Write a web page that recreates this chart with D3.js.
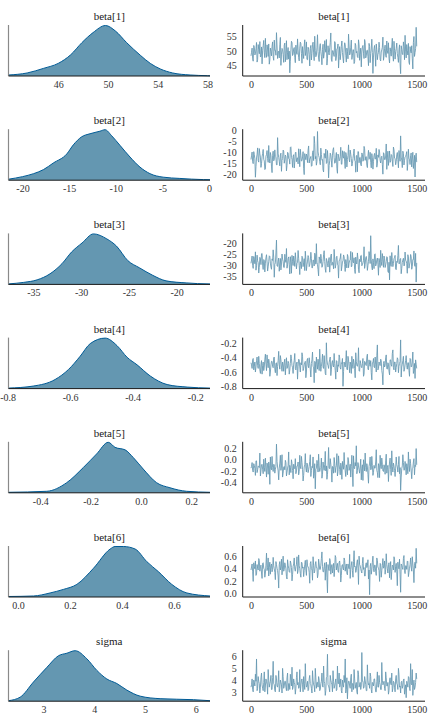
<!DOCTYPE html>
<html><head><meta charset="utf-8">
<script src="https://cdn.jsdelivr.net/npm/d3@7"></script>
<style>
body{margin:0;background:#fff}
svg{display:block}
svg text{font-family:"Liberation Serif","Times New Roman",Times,"Tinos","Nimbus Roman","Noto Serif","DejaVu Serif",serif !important}
</style>
</head><body>
<svg id="chart" width="432" height="720"></svg>
<script>
// ---------- parameter names ----------
const paramNames = ["beta[1]","beta[2]","beta[3]","beta[4]","beta[5]","beta[6]","sigma"];

// ---------- posterior densities (x value, relative density) ----------
const densX_beta1 = [42.0,43.5,44.8,46.0,47.0,47.9,48.8,49.8,50.6,51.5,52.6,53.4,54.2,55.2,56.6,58.0,58.2];
const densY_beta1 = [0.02,0.06,0.15,0.25,0.42,0.66,0.86,1.0,0.89,0.66,0.41,0.25,0.14,0.06,0.02,0.006,0.004];

const densX_beta2 = [-21.5,-20.0,-18.8,-17.75,-16.7,-15.25,-14.55,-13.65,-12.76,-11.7,-11.15,-10.44,-9.55,-8.48,-7.41,-6.34,-4.92,-3.13,-0.6,0.1];
const densY_beta2 = [0.02,0.07,0.13,0.21,0.34,0.52,0.70,0.86,0.92,0.97,1.0,0.88,0.69,0.46,0.26,0.13,0.06,0.035,0.012,0.01];

const densX_beta3 = [-37.6,-36.0,-34.6,-33.25,-32.0,-31.0,-29.9,-28.7,-27.3,-26.3,-25.1,-23.9,-22.5,-21.1,-19.0,-16.6,-16.5];
const densY_beta3 = [0.01,0.04,0.09,0.21,0.41,0.64,0.82,1.0,0.9,0.76,0.47,0.33,0.18,0.07,0.03,0.01,0.01];

const densX_beta4 = [-0.797,-0.718,-0.648,-0.605,-0.568,-0.536,-0.488,-0.45,-0.418,-0.386,-0.344,-0.29,-0.226,-0.153];
const densY_beta4 = [0.01,0.05,0.18,0.38,0.64,0.89,1.0,0.85,0.62,0.47,0.25,0.08,0.03,0.01];

const densX_beta5 = [-0.526,-0.374,-0.295,-0.229,-0.176,-0.13,-0.103,-0.063,-0.031,0.009,0.062,0.115,0.181,0.274];
const densY_beta5 = [0.01,0.03,0.2,0.5,0.77,1.0,0.9,0.85,0.7,0.47,0.2,0.1,0.03,0.01];

const densX_beta6 = [-0.037,0.059,0.123,0.174,0.226,0.29,0.354,0.373,0.405,0.45,0.495,0.54,0.591,0.649,0.738];
const densY_beta6 = [0.01,0.02,0.08,0.15,0.25,0.57,0.95,1.0,1.0,0.95,0.7,0.5,0.25,0.08,0.02];

const densX_sigma = [2.311,2.541,2.803,3.067,3.295,3.461,3.624,3.854,4.051,4.248,4.445,4.642,4.904,5.297,5.953,6.28];
const densY_sigma = [0.01,0.08,0.38,0.67,0.9,0.95,1.0,0.84,0.61,0.44,0.35,0.22,0.1,0.05,0.03,0.01];

// ---------- trace draws: two interleaved halves of one chain (iterations 1..1500) ----------
const traceA_beta1 = [
48.3,50.9,46.5,51.2,49.0,52.8,47.1,50.4,53.1,48.2,
45.6,51.7,49.3,54.2,47.8,50.6,52.3,46.9,49.8,51.5,
48.0,53.6,50.2,56.1,47.4,49.9,52.0,45.1,50.8,48.7,
51.9,46.3,53.4,49.5,47.2,42.6,50.3,52.7,48.8,51.1,
46.0,49.6,54.0,47.7,50.9,52.4,45.8,49.2,51.6,48.4,
53.0,47.0,50.5,44.9,51.8,49.1,52.9,46.7,50.0,48.5,
55.4,47.6,51.3,49.7,45.3,52.2,48.9,50.7,53.8,47.3,
49.4,51.0,56.0,46.4,50.1,48.1,52.6,47.9,50.8,44.2,
51.4,49.0,53.3,47.5,50.6,52.1,46.2,49.8,55.6,48.6,
51.2,47.1,50.4,45.7,52.5,49.3,48.0,53.7,46.8,50.9,
49.6,51.8,47.4,52.8,48.3,50.2,45.0,51.5,49.1,53.9,
42.4,50.7,48.9,52.3,47.0,49.5,51.1,46.6,50.3,54.6,
48.2,51.9,47.8,50.0,52.7,45.9,49.7,51.6,48.5,53.2,
47.2,50.8,49.0,46.1,52.0,42.3,50.5,48.7,51.4,55.2,
47.6,50.1,52.5,45.4,49.9,51.7,43.9,54.8,49.4,57.9];
const traceB_beta1 = [
49.5,47.3,51.8,48.6,50.7,46.2,52.1,49.0,47.9,51.3,
50.2,53.5,47.7,49.4,52.0,48.1,45.5,50.9,48.3,53.0,
46.8,50.1,48.5,51.6,49.7,47.6,54.5,48.9,50.4,46.1,
52.6,49.2,47.0,51.1,49.9,46.5,53.2,48.4,50.6,47.8,
51.9,48.8,50.3,46.6,52.9,49.1,51.4,47.4,53.7,49.6,
47.1,51.2,48.7,50.8,46.9,52.2,49.3,54.9,48.0,51.0,
49.8,46.4,52.4,48.2,50.5,47.5,53.4,49.5,45.2,51.7,
48.6,52.8,47.2,50.0,48.9,53.1,46.7,50.7,52.3,48.1,
47.0,51.5,49.4,45.9,52.7,48.5,50.9,47.3,51.6,49.0,
53.6,48.3,50.3,46.3,51.9,49.8,47.7,52.0,48.8,44.6,
51.3,49.2,53.8,47.6,50.1,48.0,52.5,46.0,50.6,49.4,
47.9,51.8,44.8,50.4,48.7,52.9,47.1,49.6,51.2,46.8,
50.8,48.4,53.3,49.1,47.4,51.0,48.2,54.2,46.5,50.2,
49.7,52.6,47.8,50.5,45.6,51.7,48.9,53.0,47.0,49.9,
52.1,48.6,46.2,51.4,49.3,47.5,52.8,48.1,50.7,51.5];

const traceA_beta2 = [
-13.2,-9.8,-15.1,-11.0,-21.3,-12.5,-7.9,-14.4,-10.6,-16.8,
-12.0,-8.6,-13.9,-17.5,-10.9,-12.7,-6.8,-14.8,-11.5,-19.2,
-9.4,-13.3,-11.9,-15.6,-3.2,-12.2,-16.1,-10.3,-13.6,-8.9,
-14.9,-11.2,-18.4,-9.9,-12.8,-15.3,-7.4,-13.0,-11.7,-17.1,
-10.1,-14.2,-12.4,-8.3,-16.5,-11.3,-13.7,-9.6,-20.1,-12.1,
-10.7,-14.6,-7.0,-13.1,-11.8,-16.0,-9.2,-2.6,-12.9,-15.8,
-0.4,-11.4,-14.1,-8.0,-13.5,-17.9,-10.4,-12.6,-15.0,-9.1,
-21.6,-13.8,-11.1,-16.7,-8.7,-12.3,-14.7,-10.0,-19.5,-11.6,
-13.4,-7.6,-15.4,-12.0,-9.5,-17.3,-11.0,-13.2,-6.5,-14.3,
-10.8,-16.2,-12.7,-8.4,-13.9,-11.5,-18.8,-9.7,-12.4,-15.5,
-10.2,-14.0,-7.2,-13.6,-11.9,-16.9,-9.0,-12.8,-14.5,-10.5,
-17.6,-11.3,-13.0,-8.1,-15.2,-12.2,-9.8,-14.8,-11.7,-19.9,
-10.6,-13.3,-6.1,-12.5,-15.9,-9.3,-13.8,-11.2,-16.4,-8.8,
-12.9,-14.2,-10.0,-17.0,-11.6,-2.4,-13.5,-9.4,-15.7,-12.1,
-10.9,-18.2,-8.5,-13.1,-11.4,-16.6,-9.9,-14.6,-21.2,-10.3];
const traceB_beta2 = [
-11.5,-14.2,-9.6,-12.9,-16.4,-10.8,-13.6,-8.2,-12.1,-15.0,
-10.4,-13.1,-17.8,-11.7,-9.1,-14.5,-12.6,-10.0,-16.2,-11.3,
-13.8,-8.8,-12.4,-15.7,-10.6,-14.0,-11.1,-18.6,-12.7,-9.3,
-13.4,-11.9,-15.9,-10.2,-13.0,-7.7,-12.3,-16.8,-11.0,-14.4,
-9.8,-12.8,-15.2,-11.4,-8.5,-13.9,-12.0,-17.2,-10.5,-13.3,
-11.6,-9.0,-14.8,-12.5,-16.3,-10.1,-13.7,-5.9,-11.8,-14.1,
-9.7,-12.2,-15.6,-10.9,-13.2,-18.9,-11.5,-8.4,-14.6,-12.9,
-16.0,-10.3,-13.5,-11.2,-7.8,-14.9,-12.1,-17.4,-10.7,-13.8,
-11.9,-15.3,-9.2,-12.6,-14.3,-10.0,-16.6,-11.4,-13.0,-8.9,
-12.7,-15.1,-10.6,-13.6,-19.0,-11.3,-9.5,-14.7,-12.2,-16.1,
-10.8,-13.4,-8.3,-12.0,-15.8,-11.7,-13.1,-9.9,-17.0,-12.4,
-14.2,-10.4,-12.9,-16.7,-11.1,-8.6,-13.7,-12.3,-15.4,-10.1,
-13.2,-11.6,-17.7,-9.4,-12.8,-14.5,-10.9,-13.9,-7.5,-12.5,
-15.6,-11.0,-13.3,-9.1,-14.0,-12.1,-16.9,-10.5,-13.6,-11.8,
-9.6,-14.8,-12.6,-15.5,-10.2,-13.0,-17.3,-11.3,-12.0,-14.4];

const traceA_beta3 = [
-29.1,-25.8,-31.4,-27.3,-23.9,-30.2,-28.0,-33.5,-26.4,-29.7,
-24.6,-31.9,-27.8,-29.0,-25.2,-32.6,-28.4,-26.0,-30.8,-27.1,
-23.0,-35.4,-28.9,-18.6,-30.5,-26.7,-29.4,-32.1,-24.9,-28.2,
-31.0,-27.5,-22.4,-29.8,-26.2,-33.9,-28.6,-25.5,-30.1,-27.9,
-24.3,-31.6,-28.7,-26.8,-34.2,-29.3,-25.9,-30.6,-27.0,-23.6,
-32.4,-28.1,-26.5,-29.9,-24.1,-31.2,-27.6,-30.3,-25.3,-20.2,
-29.6,-34.8,-27.2,-25.0,-30.9,-28.3,-23.4,-31.7,-26.9,-29.2,
-27.7,-33.1,-25.6,-30.0,-28.8,-22.8,-31.3,-26.3,-29.5,-35.8,
-27.4,-24.7,-30.7,-28.0,-26.1,-32.8,-29.1,-25.1,-31.1,-27.8,
-23.7,-30.4,-28.5,-26.6,-33.7,-29.0,-24.4,-31.8,-27.3,-25.7,
-30.2,-28.9,-21.6,-29.7,-26.0,-32.3,-28.2,-25.4,-16.6,-30.8,
-27.1,-31.5,-24.8,-29.4,-26.7,-34.5,-28.6,-23.2,-30.1,-27.5,
-25.8,-31.0,-28.3,-26.4,-33.3,-36.6,-29.8,-24.2,-30.6,-27.0,
-25.5,-32.0,-28.7,-21.0,-29.2,-26.9,-31.4,-27.6,-30.3,-24.0,
-28.1,-33.6,-26.2,-29.9,-25.1,-31.8,-27.4,-23.5,-30.5,-37.6];
const traceB_beta3 = [
-27.6,-30.1,-26.0,-29.3,-32.2,-25.4,-28.8,-31.0,-27.1,-24.8,
-29.9,-27.4,-33.0,-26.6,-28.5,-30.7,-25.7,-29.0,-31.8,-27.8,
-26.3,-29.6,-24.4,-30.3,-28.1,-32.7,-26.9,-29.4,-27.2,-30.9,
-25.0,-28.7,-31.3,-27.0,-29.7,-26.1,-33.6,-28.3,-25.8,-30.5,
-27.5,-29.2,-23.3,-30.0,-28.4,-31.5,-26.4,-28.9,-32.4,-27.3,
-29.8,-25.6,-30.6,-28.0,-26.8,-31.1,-27.7,-24.5,-29.5,-28.6,
-32.0,-26.2,-29.1,-27.0,-30.4,-25.2,-28.2,-33.2,-27.9,-30.8,
-26.5,-29.3,-24.9,-28.7,-31.6,-27.2,-29.9,-25.9,-30.2,-28.1,
-26.7,-32.5,-28.5,-25.3,-29.6,-27.4,-31.2,-26.0,-29.0,-27.6,
-30.7,-24.2,-28.9,-31.9,-26.3,-29.4,-27.1,-33.4,-28.4,-25.5,
-29.7,-27.8,-31.4,-26.6,-28.0,-30.1,-23.8,-29.2,-27.3,-32.1,
-28.8,-25.1,-30.3,-27.5,-29.5,-26.9,-31.0,-28.3,-24.7,-30.9,
-27.0,-29.8,-26.1,-32.8,-28.6,-25.7,-30.5,-27.9,-29.1,-26.4,
-31.7,-28.2,-25.6,-29.4,-27.2,-33.8,-28.7,-26.8,-30.0,-27.7,
-29.3,-25.2,-31.3,-28.5,-26.2,-30.6,-27.4,-29.9,-24.6,-28.9];

const traceA_beta4 = [
-0.47,-0.55,-0.41,-0.52,-0.60,-0.44,-0.51,-0.38,-0.57,-0.49,
-0.63,-0.46,-0.53,-0.35,-0.58,-0.48,-0.42,-0.66,-0.50,-0.45,
-0.54,-0.39,-0.61,-0.47,-0.52,-0.31,-0.56,-0.43,-0.59,-0.50,
-0.46,-0.64,-0.40,-0.53,-0.48,-0.57,-0.36,-0.51,-0.62,-0.44,
-0.55,-0.49,-0.70,-0.42,-0.53,-0.47,-0.33,-0.58,-0.50,-0.45,
-0.60,-0.41,-0.54,-0.48,-0.67,-0.43,-0.52,-0.75,-0.46,-0.39,
-0.56,-0.50,-0.28,-0.59,-0.45,-0.53,-0.37,-0.62,-0.19,-0.49,
-0.55,-0.42,-0.65,-0.47,-0.51,-0.34,-0.58,-0.44,-0.60,-0.52,
-0.40,-0.56,-0.48,-0.80,-0.46,-0.53,-0.30,-0.57,-0.43,-0.61,
-0.50,-0.38,-0.55,-0.47,-0.68,-0.45,-0.52,-0.26,-0.59,-0.48,
-0.54,-0.41,-0.63,-0.46,-0.51,-0.35,-0.57,-0.49,-0.44,-0.71,
-0.47,-0.53,-0.39,-0.60,-0.22,-0.55,-0.48,-0.42,-0.58,-0.78,
-0.45,-0.51,-0.36,-0.56,-0.49,-0.64,-0.43,-0.52,-0.29,-0.57,
-0.46,-0.54,-0.40,-0.61,-0.48,-0.15,-0.53,-0.44,-0.59,-0.50,
-0.37,-0.56,-0.47,-0.66,-0.42,-0.52,-0.32,-0.58,-0.69,-0.49];
const traceB_beta4 = [
-0.50,-0.43,-0.57,-0.46,-0.53,-0.39,-0.55,-0.48,-0.62,-0.44,
-0.51,-0.58,-0.42,-0.49,-0.36,-0.54,-0.47,-0.60,-0.45,-0.52,
-0.40,-0.56,-0.48,-0.65,-0.44,-0.50,-0.37,-0.53,-0.46,-0.59,
-0.42,-0.51,-0.55,-0.45,-0.63,-0.48,-0.41,-0.54,-0.49,-0.34,
-0.57,-0.46,-0.52,-0.43,-0.60,-0.50,-0.38,-0.55,-0.47,-0.68,
-0.44,-0.51,-0.40,-0.56,-0.48,-0.32,-0.53,-0.45,-0.61,-0.49,
-0.42,-0.58,-0.46,-0.52,-0.35,-0.55,-0.49,-0.64,-0.43,-0.51,
-0.47,-0.39,-0.57,-0.44,-0.53,-0.48,-0.70,-0.45,-0.50,-0.36,
-0.54,-0.47,-0.41,-0.59,-0.50,-0.44,-0.56,-0.38,-0.52,-0.46,
-0.62,-0.49,-0.42,-0.55,-0.33,-0.51,-0.47,-0.58,-0.44,-0.53,
-0.48,-0.66,-0.45,-0.50,-0.39,-0.56,-0.43,-0.52,-0.61,-0.47,
-0.41,-0.54,-0.49,-0.37,-0.57,-0.46,-0.51,-0.44,-0.63,-0.48,
-0.53,-0.40,-0.55,-0.47,-0.59,-0.43,-0.50,-0.34,-0.54,-0.46,
-0.60,-0.48,-0.42,-0.52,-0.45,-0.67,-0.49,-0.38,-0.56,-0.44,
-0.51,-0.47,-0.58,-0.41,-0.53,-0.46,-0.62,-0.48,-0.43,-0.55];

const traceA_beta5 = [
-0.15,-0.05,-0.22,-0.10,-0.28,-0.02,-0.18,-0.12,0.12,-0.20,
-0.08,-0.25,-0.14,0.03,-0.31,-0.11,-0.04,-0.44,-0.16,0.06,
-0.21,-0.09,-0.17,0.28,-0.13,-0.36,-0.06,-0.19,0.09,-0.24,
-0.12,-0.01,-0.29,-0.15,0.14,-0.10,-0.23,-0.07,-0.34,-0.14,
0.02,-0.20,-0.11,-0.27,0.08,-0.16,-0.05,-0.38,-0.13,0.11,
-0.22,-0.09,-0.18,-0.03,-0.30,-0.12,0.05,-0.25,-0.52,-0.15,
-0.07,0.10,-0.21,-0.14,-0.33,-0.04,-0.19,0.15,-0.11,-0.26,
0.22,-0.16,-0.08,-0.40,-0.13,0.04,-0.23,-0.10,-0.29,0.07,
-0.17,-0.06,-0.35,-0.12,0.13,-0.20,-0.09,-0.27,-0.02,-0.15,
-0.31,0.08,-0.48,-0.14,-0.05,0.25,-0.19,-0.11,-0.24,0.01,
-0.16,-0.37,-0.08,0.12,-0.21,-0.13,-0.42,-0.06,-0.18,0.06,
-0.28,-0.10,-0.15,0.18,-0.23,-0.07,-0.32,-0.12,0.03,-0.20,
-0.09,-0.26,0.10,-0.14,-0.39,-0.04,-0.17,0.16,-0.22,-0.11,
-0.30,0.05,-0.13,-0.08,-0.25,-0.55,-0.16,0.09,-0.19,-0.03,
-0.27,-0.12,0.14,-0.21,-0.07,-0.34,-0.15,0.02,-0.10,0.20];
const traceB_beta5 = [
-0.12,-0.19,-0.07,-0.16,-0.02,-0.23,-0.11,-0.14,-0.29,-0.09,
-0.17,0.01,-0.21,-0.13,-0.06,-0.26,-0.10,0.05,-0.18,-0.14,
-0.08,-0.24,-0.12,-0.03,-0.20,-0.15,0.08,-0.11,-0.31,-0.13,
-0.18,-0.05,-0.22,-0.10,-0.27,-0.14,0.00,-0.19,-0.08,-0.16,
-0.25,-0.11,-0.04,-0.21,-0.13,0.06,-0.17,-0.28,-0.09,-0.15,
-0.06,-0.23,-0.12,0.09,-0.19,-0.14,-0.33,-0.07,-0.17,-0.01,
-0.22,-0.11,-0.16,0.03,-0.26,-0.13,-0.08,-0.20,-0.35,-0.10,
-0.15,0.02,-0.18,-0.12,-0.24,-0.06,-0.14,0.11,-0.21,-0.09,
-0.27,-0.13,-0.03,-0.17,-0.10,-0.30,-0.15,0.04,-0.19,-0.08,
-0.12,-0.22,0.07,-0.16,-0.11,-0.25,-0.05,-0.18,-0.13,-0.36,
-0.09,0.00,-0.20,-0.14,-0.07,-0.26,-0.12,0.05,-0.17,-0.10,
-0.23,-0.15,-0.04,-0.19,-0.32,-0.11,0.08,-0.16,-0.08,-0.21,
-0.13,-0.02,-0.24,-0.10,-0.17,0.03,-0.28,-0.12,-0.06,-0.19,
-0.15,-0.09,-0.22,0.06,-0.14,-0.31,-0.11,-0.05,-0.18,-0.13,
-0.07,-0.25,-0.10,0.01,-0.20,-0.16,-0.04,-0.27,-0.12,-0.09];

const traceA_beta6 = [
0.38,0.48,0.19,0.44,0.53,0.31,0.41,0.57,0.36,0.46,
0.24,0.50,0.39,0.33,0.66,0.42,0.28,0.51,0.45,0.35,
0.59,0.40,0.22,0.47,0.37,0.08,0.52,0.43,0.30,0.61,
0.39,0.46,0.27,0.55,0.41,0.34,0.49,0.20,0.44,0.58,
0.36,0.47,0.32,0.63,0.40,0.26,0.50,0.43,0.37,0.54,
0.29,0.45,0.41,0.16,0.52,0.38,0.60,0.33,0.48,0.42,
0.25,0.56,0.39,0.46,0.68,0.35,0.44,0.21,0.51,0.00,
0.40,0.57,0.31,0.47,0.43,0.27,0.62,0.38,0.49,0.34,
0.53,0.18,0.45,0.41,0.58,0.36,0.48,0.30,0.43,0.64,
0.39,0.52,0.26,0.70,0.44,0.37,0.55,0.14,0.47,0.40,
0.33,0.59,0.42,0.28,0.50,0.45,0.23,-0.03,0.49,0.38,
0.61,0.35,0.46,0.29,0.54,0.41,0.19,0.48,0.37,0.57,
0.43,0.31,0.65,0.40,0.47,0.25,0.52,0.36,0.44,0.60,
0.34,0.49,0.12,0.42,0.56,0.01,0.46,0.39,0.62,0.32,
0.45,0.53,0.27,0.41,0.58,0.36,0.48,0.17,0.51,0.74];
const traceB_beta6 = [
0.43,0.35,0.50,0.40,0.29,0.47,0.38,0.54,0.44,0.33,
0.49,0.41,0.26,0.46,0.37,0.58,0.42,0.31,0.48,0.39,
0.45,0.34,0.52,0.41,0.28,0.47,0.38,0.56,0.43,0.36,
0.50,0.40,0.23,0.46,0.35,0.53,0.42,0.30,0.48,0.39,
0.44,0.60,0.37,0.45,0.32,0.51,0.41,0.27,0.47,0.38,
0.55,0.43,0.34,0.49,0.40,0.21,0.46,0.36,0.52,0.42,
0.31,0.48,0.39,0.57,0.44,0.35,0.50,0.41,0.25,0.47,
0.37,0.53,0.43,0.33,0.49,0.40,0.59,0.45,0.36,0.51,
0.42,0.29,0.47,0.38,0.54,0.44,0.32,0.48,0.40,0.24,
0.46,0.37,0.52,0.43,0.34,0.50,0.41,0.61,0.45,0.36,
0.49,0.39,0.28,0.47,0.42,0.55,0.38,0.44,0.31,0.51,
0.40,0.46,0.35,0.58,0.43,0.37,0.49,0.26,0.45,0.41,
0.53,0.39,0.47,0.33,0.50,0.42,0.22,0.46,0.38,0.56,
0.44,0.36,0.51,0.40,0.30,0.48,0.42,0.57,0.37,0.45,
0.39,0.52,0.34,0.47,0.43,0.60,0.38,0.46,0.41,0.49];

const traceA_sigma = [
3.4,4.1,3.0,3.8,4.5,5.8,3.3,3.9,2.9,4.2,
3.6,3.1,4.7,3.5,3.9,2.8,4.0,3.7,4.4,3.2,
5.6,3.6,3.0,4.1,3.4,4.8,3.3,3.8,2.9,4.3,
3.5,3.9,3.1,4.6,3.7,3.2,4.0,5.1,3.4,3.8,
2.8,4.2,3.6,3.3,4.9,3.5,4.1,3.0,3.7,5.4,
3.4,3.9,3.2,4.4,3.6,2.9,4.0,3.5,5.0,3.3,
3.8,4.3,3.1,3.7,4.6,3.4,3.9,2.7,4.2,6.2,
3.5,3.0,4.0,3.6,4.8,3.3,3.8,3.1,5.2,3.7,
3.4,4.1,2.9,3.6,4.4,5.8,3.2,2.4,3.9,3.5,
4.2,3.0,3.7,4.9,3.3,3.8,2.8,4.5,3.6,3.2,
6.35,3.9,3.4,4.0,3.1,5.3,3.6,3.3,4.3,2.9,
3.7,4.1,3.5,3.0,4.7,3.4,3.8,3.2,5.5,3.6,
3.9,3.1,4.2,3.5,2.8,4.0,3.7,4.6,3.3,3.8,
3.0,4.4,3.6,5.0,3.4,2.9,3.9,3.5,4.1,3.2,
2.5,3.7,4.3,3.3,5.4,3.6,2.7,4.0,3.4,4.6];
const traceB_sigma = [
3.6,3.2,4.0,3.5,3.9,3.1,4.3,3.7,3.4,4.6,
3.3,3.8,3.0,4.1,3.6,4.9,3.4,3.9,3.2,4.2,
3.7,3.1,4.4,3.5,3.8,3.0,4.0,3.6,5.0,3.3,
3.9,3.4,4.2,3.1,3.7,4.5,3.5,3.2,4.1,3.6,
3.3,4.7,3.8,3.4,3.0,4.0,3.6,4.3,3.2,3.9,
3.5,3.1,4.1,3.7,3.3,4.8,3.6,3.0,4.2,3.8,
3.4,4.0,3.2,3.9,3.5,5.2,3.7,3.1,4.3,3.6,
3.3,4.4,3.8,3.0,3.9,3.5,4.1,3.2,3.7,4.6,
3.6,3.1,4.0,3.4,3.8,2.9,4.2,3.5,3.9,3.3,
4.5,3.7,3.2,4.1,3.6,3.0,4.8,3.4,3.8,3.5,
3.9,3.3,4.3,3.6,3.1,4.0,3.7,4.6,3.2,3.8,
3.5,4.1,3.0,3.9,3.4,4.4,3.6,3.2,4.0,3.7,
3.3,4.7,3.5,3.8,3.1,4.2,3.6,3.0,3.9,3.4,
4.1,3.7,3.2,4.5,3.5,3.8,3.3,4.0,2.8,3.6,
3.9,3.4,4.2,3.1,3.7,4.9,3.5,3.2,3.8,4.1];

// ---------- tick labels ----------
const densTicks_beta1 = ["46","50","54","58"];
const densTicks_beta2 = ["-20","-15","-10","-5","0"];
const densTicks_beta3 = ["-35","-30","-25","-20"];
const densTicks_beta4 = ["-0.8","-0.6","-0.4","-0.2"];
const densTicks_beta5 = ["-0.4","-0.2","0.0","0.2"];
const densTicks_beta6 = ["0.0","0.2","0.4","0.6"];
const densTicks_sigma = ["3","4","5","6"];

const traceYTicks_beta1 = ["45","50","55"];
const traceYTicks_beta2 = ["-20","-15","-10","-5","0"];
const traceYTicks_beta3 = ["-35","-30","-25","-20"];
const traceYTicks_beta4 = ["-0.8","-0.6","-0.4","-0.2"];
const traceYTicks_beta5 = ["-0.4","-0.2","0.0","0.2"];
const traceYTicks_beta6 = ["0.0","0.2","0.4","0.6"];
const traceYTicks_sigma = ["3","4","5","6"];

const iterTicks = ["0","500","1000","1500"];
const nIter = 1500;

// ---------- assemble ----------
const interleave = (a, b) => a.flatMap((v, k) => [v, b[k]]);
const panels = [
  {name: paramNames[0], dx: densX_beta1, dy: densY_beta1, tr: interleave(traceA_beta1, traceB_beta1), dt: densTicks_beta1, ty: traceYTicks_beta1},
  {name: paramNames[1], dx: densX_beta2, dy: densY_beta2, tr: interleave(traceA_beta2, traceB_beta2), dt: densTicks_beta2, ty: traceYTicks_beta2},
  {name: paramNames[2], dx: densX_beta3, dy: densY_beta3, tr: interleave(traceA_beta3, traceB_beta3), dt: densTicks_beta3, ty: traceYTicks_beta3},
  {name: paramNames[3], dx: densX_beta4, dy: densY_beta4, tr: interleave(traceA_beta4, traceB_beta4), dt: densTicks_beta4, ty: traceYTicks_beta4},
  {name: paramNames[4], dx: densX_beta5, dy: densY_beta5, tr: interleave(traceA_beta5, traceB_beta5), dt: densTicks_beta5, ty: traceYTicks_beta5},
  {name: paramNames[5], dx: densX_beta6, dy: densY_beta6, tr: interleave(traceA_beta6, traceB_beta6), dt: densTicks_beta6, ty: traceYTicks_beta6},
  {name: paramNames[6], dx: densX_sigma, dy: densY_sigma, tr: interleave(traceA_sigma, traceB_sigma), dt: densTicks_sigma, ty: traceYTicks_sigma}
];

const FONT = '"Liberation Serif","Times New Roman",Times,"Tinos","Nimbus Roman","Noto Serif","DejaVu Serif",serif';
const svg = d3.select("#chart");
const rowH = 104.2;
const plotTop = 25, plotBot = 76;
const L = {x0: 8.5, x1: 210};
const R = {x0: 242.7, x1: 425};
const fillC = "#6497b1", lineC = "#005b96", textC = "#333333";

function styleTicks(sel) {
  sel.select(".domain").remove();
  sel.attr("font-family", FONT);
  sel.selectAll("text").attr("fill", textC).attr("font-family", FONT).style("font-size", "10px");
}

panels.forEach((p, i) => {
  const g = svg.append("g").attr("transform", `translate(0,${i * rowH})`);

  // ---------- density panel ----------
  const xd = d3.scaleLinear().domain(d3.extent(p.dx)).range([L.x0, L.x1]);
  const yd = d3.scaleLinear().domain([0, d3.max(p.dy)]).range([plotBot, plotTop + 0.5]);
  const pts = p.dx.map((x, k) => [x, p.dy[k]]);
  const area = d3.area().x(d => xd(d[0])).y0(plotBot).y1(d => yd(d[1])).curve(d3.curveMonotoneX);
  const line = d3.line().x(d => xd(d[0])).y(d => yd(d[1])).curve(d3.curveMonotoneX);

  g.append("path").attr("d", area(pts)).attr("fill", fillC);
  g.append("path").attr("d", line(pts)).attr("fill", "none").attr("stroke", lineC).attr("stroke-width", 1);

  g.append("line").attr("x1", L.x0).attr("x2", L.x0).attr("y1", plotTop).attr("y2", plotBot)
    .attr("stroke", "#8a8a8a").attr("stroke-width", 1.2);
  g.append("line").attr("x1", L.x0).attr("x2", L.x1).attr("y1", plotBot).attr("y2", plotBot)
    .attr("stroke", "#1a1a1a").attr("stroke-width", 1);

  const xAxisD = d3.axisBottom(xd).tickValues(p.dt.map(Number)).tickFormat((d, k) => p.dt[k]).tickSize(0).tickPadding(5);
  g.append("g").attr("transform", `translate(0,${plotBot})`).call(xAxisD).call(styleTicks);

  g.append("text").attr("x", (L.x0 + L.x1) / 2).attr("y", 20).attr("text-anchor", "middle")
    .attr("font-family", FONT).attr("fill", "#1a1a1a").style("font-size", "11px").text(p.name);

  // ---------- trace panel ----------
  const ext = d3.extent(p.tr);
  const pad = (ext[1] - ext[0]) * 0.05;
  const yt = d3.scaleLinear().domain([ext[0] - pad, ext[1] + pad]).range([plotBot, plotTop]);
  const ipad = (nIter - 1) * 0.05;
  const xt = d3.scaleLinear().domain([1 - ipad, nIter + ipad]).range([R.x0, R.x1]);
  const n = p.tr.length;
  const iterOf = k => 1 + k * (nIter - 1) / (n - 1);
  const tline = d3.line().x((d, k) => xt(iterOf(k))).y(d => yt(d));
  g.append("path").attr("d", tline(p.tr)).attr("fill", "none")
    .attr("stroke", fillC).attr("stroke-width", 0.85).attr("stroke-linejoin", "round");

  g.append("line").attr("x1", R.x0).attr("x2", R.x0).attr("y1", plotTop).attr("y2", plotBot)
    .attr("stroke", "#1a1a1a").attr("stroke-width", 1);
  g.append("line").attr("x1", R.x0).attr("x2", R.x1).attr("y1", plotBot).attr("y2", plotBot)
    .attr("stroke", "#1a1a1a").attr("stroke-width", 1);

  const xAxisT = d3.axisBottom(xt).tickValues(iterTicks.map(Number)).tickFormat((d, k) => iterTicks[k]).tickSize(0).tickPadding(5);
  g.append("g").attr("transform", `translate(0,${plotBot})`).call(xAxisT).call(styleTicks);

  const yAxisT = d3.axisLeft(yt).tickValues(p.ty.map(Number)).tickFormat((d, k) => p.ty[k]).tickSize(0).tickPadding(6);
  g.append("g").attr("transform", `translate(${R.x0},0)`).call(yAxisT).call(styleTicks);

  g.append("text").attr("x", (R.x0 + R.x1) / 2).attr("y", 20).attr("text-anchor", "middle")
    .attr("font-family", FONT).attr("fill", "#1a1a1a").style("font-size", "11px").text(p.name);
});
</script>
</body></html>
